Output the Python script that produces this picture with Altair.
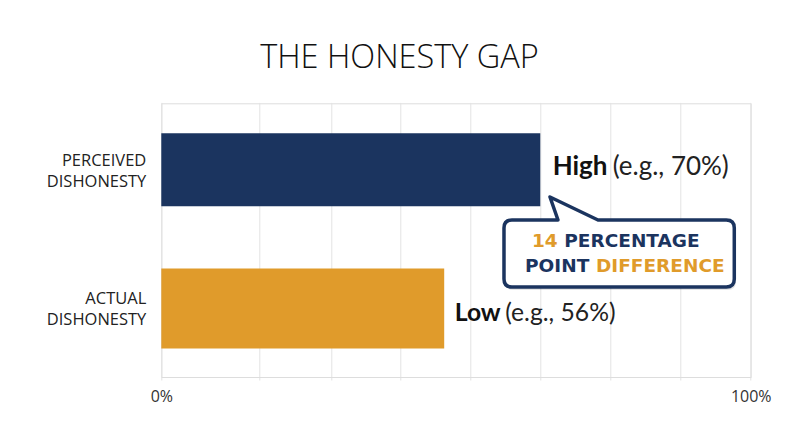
import altair as alt
import pandas as pd

# ---- data ----
categories = ["PERCEIVED DISHONESTY", "ACTUAL DISHONESTY"]
bar_values = [64.3, 48.0]          # bar lengths as drawn (% of axis)
label_words = ["High", "Low"]
example_values = [70, 56]
grid_ticks = [0, 16.6, 28.9, 40.5, 52.5, 64.3, 76.2, 88.1, 100]
gap_points = example_values[0] - example_values[1]

NAVY = "#1b345f"
ORANGE = "#e09b2b"

df = pd.DataFrame({
    "category": categories,
    "value": bar_values,
    "word": label_words,
    "example": example_values,
})

base = alt.Chart(df)

x_enc = alt.X(
    "value:Q",
    scale=alt.Scale(domain=[0, 100], nice=False, zero=True),
    axis=alt.Axis(
        values=grid_ticks,
        labelExpr="datum.value == 0 ? '0%' : (datum.value == 100 ? '100%' : '')",
        grid=True, gridColor="#e3e3e3", gridWidth=1,
        domain=True, domainColor="#dddddd", domainWidth=1.2,
        ticks=False, title=None, labelFlush=False, labelOverlap=False,
        labelFont="Open Sans", labelFontSize=16, labelColor="#333333",
        labelPadding=12,
    ),
)
y_enc = alt.Y(
    "category:N",
    sort=categories,
    scale=alt.Scale(range=[-3, 274.6], paddingInner=0, paddingOuter=0),
    axis=alt.Axis(
        title=None, ticks=False, domain=False, grid=False,
        labelExpr="split(datum.label, ' ')",
        labelFont="Open Sans", labelFontSize=16.5, labelColor="#222222",
        labelLineHeight=21, labelPadding=15.5, labelOffset=-9,
    ),
)

bars = base.mark_bar().encode(
    x=x_enc,
    y=y_enc,
    color=alt.Color("category:N", scale=alt.Scale(domain=categories, range=[NAVY, ORANGE]), legend=None),
    size=alt.condition(alt.datum.category == categories[0], alt.value(73), alt.value(80)),
)

def word_layer(word, dx, dy, fs):
    return base.transform_filter(alt.datum.word == word).mark_text(
        align="left", baseline="alphabetic", dx=dx, dy=dy,
        font="Lato", fontWeight="bold", fontSize=fs, color="#111111",
    ).encode(x="value:Q", y=alt.Y("category:N", sort=categories), text="word:N")

def rest_layer(word, dx, dy, fs):
    return base.transform_filter(alt.datum.word == word).transform_calculate(
        rest="'(e.g., ' + datum.example + '%)'"
    ).mark_text(
        align="left", baseline="alphabetic", dx=dx, dy=dy,
        font="Lato", fontWeight="normal", fontSize=fs, color="#222222",
    ).encode(x="value:Q", y=alt.Y("category:N", sort=categories), text="rest:N")

labels = [
    word_layer("High", 12.4, 5, 26), rest_layer("High", 72.4, 5, 26),
    word_layer("Low", 10.5, 12.4, 24.7), rest_layer("Low", 61, 12.4, 24.7),
]

# ---- callout (annotation, plot-relative pixels) ----
callout_path = (
    "M350.7,116.7 L396.7,116.7 L388.7,93.7 L436.7,116.7 L565,116.7 "
    "Q573,116.7 573,124.7 L573,175.7 Q573,183.7 565,183.7 L350.7,183.7 "
    "Q342.7,183.7 342.7,175.7 L342.7,124.7 Q342.7,116.7 350.7,116.7 Z"
)
ann = alt.Chart(pd.DataFrame({"a": [0]}))
shadow = ann.mark_point(
    shape=callout_path, size=4, filled=True, fill="#000000", opacity=0.10, strokeWidth=0,
).encode(x=alt.value(1.5), y=alt.value(3))
callout = ann.mark_point(
    shape=callout_path, size=4, filled=True, fill="#ffffff", stroke=NAVY,
    strokeWidth=3.5, opacity=1, strokeJoin="round",
).encode(x=alt.value(0), y=alt.value(0))

def seg(text, color, align, x, y):
    return ann.mark_text(
        text=text, align=align, baseline="alphabetic", font="DejaVu Sans",
        fontWeight="bold", fontSize=18.5, color=color,
    ).encode(x=alt.value(x), y=alt.value(y))

segs = [
    seg(str(gap_points), ORANGE, "right", 396.4, 143.4),
    seg("PERCENTAGE", NAVY, "left", 403.0, 143.4),
    seg("POINT", NAVY, "right", 428.0, 168.4),
    seg("DIFFERENCE", ORANGE, "left", 434.7, 168.4),
]

chart = alt.layer(bars, *labels, shadow, callout, *segs).properties(
    width=589.4,
    height=273.7,
    padding={"left": 153.3, "top": 95.3, "right": 40, "bottom": 60},
    autosize=alt.AutoSizeParams(type="none"),
    title=alt.TitleParams(
        "THE HONESTY GAP", anchor="middle", dx=-56.5, offset=3,
        baseline="alphabetic", font="Open Sans", fontWeight=300,
        fontSize=32.5, color="#111111",
    ),
).configure_view(stroke=None).configure(background="white")

chart.save("out.html", embed_options={"renderer": "svg", "actions": False})
